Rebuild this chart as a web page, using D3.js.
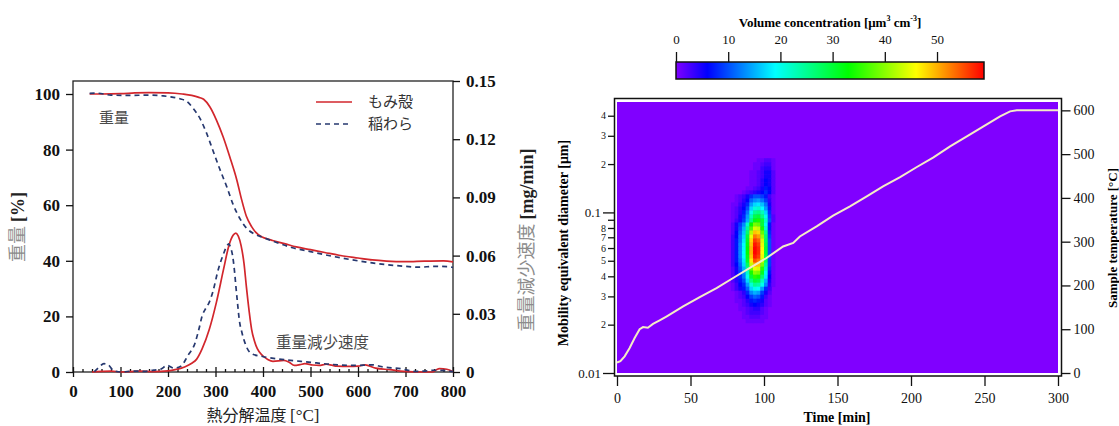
<!DOCTYPE html>
<html>
<head>
<meta charset="utf-8">
<script src="https://cdn.jsdelivr.net/npm/d3@7"></script>
<style>
  body { margin: 0; background: #fff; }
  svg { display: block; }
</style>
</head>
<body>
<svg id="chart" width="1119" height="426"></svg>
<script>
// ---------- left panel: TG / DTG ----------
const tg_xticks = [0, 100, 200, 300, 400, 500, 600, 700, 800];
const tg_wticks = [0, 20, 40, 60, 80, 100];
const tg_rticks = [0, 0.03, 0.06, 0.09, 0.12, 0.15];
const tg_names = ['もみ殻', '稲わら'];

// [temperature °C, weight %]
const husk_weight = [[35,100],[60,100],[100,100.1],[130,100.4],[160,100.5],[200,100.4],[230,100],[250,99.5],[265,98.8],[275,98.1],[288,95.4],[302,90.6],[316,84.6],[330,77.4],[345,69],[355,62],[365,56],[376,52.3],[385,50.2],[395,48.8],[405,48.1],[420,47.3],[445,46.2],[470,45],[500,44],[530,43],[560,42],[600,41],[630,40.3],[660,39.9],[700,39.7],[740,39.9],[780,40],[800,39.6]];
const straw_weight = [[35,100.2],[50,100.3],[80,99.6],[120,99.5],[160,99.6],[190,99.3],[205,99.0],[225,98.3],[240,97.3],[253,94.8],[267,91.3],[281,86.0],[295,79.5],[309,73],[324,66.5],[337,60.3],[352,55],[365,51.8],[380,49.8],[400,48.4],[430,46.5],[460,44.8],[500,43.3],[550,41.5],[600,40],[650,38.8],[700,38],[730,37.7],[760,38],[790,37.9],[800,37.6]];

// [temperature °C, rate mg/min]
const husk_rate = [[40,0],[60,0.0003],[80,0.0005],[100,0],[140,0.0004],[170,0.0002],[200,0.0006],[215,0.0012],[235,0.0026],[250,0.0045],[260,0.0065],[272,0.012],[287,0.022],[302,0.036],[317,0.053],[328,0.065],[337,0.0705],[343,0.0716],[348,0.070],[354,0.065],[360,0.056],[365,0.044],[371,0.031],[376,0.022],[382,0.016],[388,0.012],[399,0.0085],[410,0.0065],[421,0.0055],[444,0.006],[455,0.005],[466,0.0034],[478,0.0038],[488,0.0043],[505,0.0036],[518,0.0034],[533,0.004],[545,0.0035],[555,0.003],[580,0.0029],[600,0.003],[615,0.0037],[625,0.003],[637,0.002],[667,0.0012],[697,0.0003],[720,0.0001],[757,0],[765,0.0012],[772,0.0017],[787,0.0014],[800,0.0001]];
const straw_rate = [[45,0.0002],[55,0.0025],[65,0.0043],[75,0.0035],[85,0.0008],[100,0],[130,0.0005],[150,0.0003],[170,0.001],[185,0.0015],[198,0.0034],[212,0.002],[227,0.003],[242,0.0085],[257,0.015],[265,0.022],[272,0.029],[280,0.033],[287,0.036],[294,0.041],[306,0.053],[317,0.061],[324,0.065],[328,0.066],[332,0.064],[336,0.060],[340,0.052],[343,0.044],[347,0.034],[350,0.027],[356,0.02],[362,0.015],[376,0.0094],[399,0.008],[429,0.0068],[458,0.006],[496,0.0051],[540,0.004],[593,0.0034],[630,0.0037],[652,0.0026],[690,0.0017],[720,0.0003],[740,0.0005],[764,0.0009],[780,0.0008],[800,0.0002]];

// ---------- right panel: size distribution map ----------
const time_ticks = [0, 50, 100, 150, 200, 250, 300];
const temp_ticks = [0, 100, 200, 300, 400, 500, 600];
const diam_ticks = [0.01, 0.02, 0.03, 0.04, 0.05, 0.06, 0.07, 0.08, 0.09, 0.1, 0.2, 0.3, 0.4];
const diam_labels = ['0.01', '2', '3', '4', '5', '6', '7', '8', '', '0.1', '2', '3', '4'];
const cbar_ticks = [0, 10, 20, 30, 40, 50];
const cbar_values = [0, 6, 19, 33, 46, 59];
const cbar_colors = ['#8000ff', '#0000ff', '#00ffff', '#00ff00', '#ffff00', '#ff0000'];

// [time min, sample temperature °C]
const sample_temp = [[0,24],[2.3,27],[5.2,38],[8.6,57],[12,80],[15.4,100],[17.7,105],[21,103.5],[24.5,112],[29,120],[33.6,129],[45,152],[56.3,173.6],[67.7,194],[79,217],[90.4,240],[101.7,262.7],[113,289],[119.9,297],[124.4,312],[135.8,335],[147,359.4],[158.5,380.7],[169.9,403.6],[181,426.4],[192.6,447.7],[204,470.6],[215.3,492.7],[226.6,517.8],[238,540.6],[249.3,563.5],[260.6,586.3],[267.4,597.7],[272,600],[300,600]];

// column start times (min), 2.5 min wide
const heat_time = [77.5, 80, 82.5, 85, 87.5, 90, 92.5, 95, 97.5, 100, 102.5, 105];
// row centres, log10(diameter / µm), 0.025 decade tall
const heat_logd = [-0.675,-0.7,-0.725,-0.75,-0.775,-0.8,-0.825,-0.85,-0.875,-0.9,-0.925,-0.95,-0.975,-1,-1.025,-1.05,-1.075,-1.1,-1.125,-1.15,-1.175,-1.2,-1.225,-1.25,-1.275,-1.3,-1.325,-1.35,-1.375,-1.4,-1.425,-1.45,-1.475,-1.5,-1.525,-1.55,-1.575,-1.6,-1.625,-1.65,-1.675];
// volume concentration µm3 cm-3
const heat_values = [
  [0,0,0,0,0,0,0,1,1,2,2,1],
  [0,0,0,0,0,0,1,1,2,3,3,1],
  [0,0,0,0,0,0,1,1,3,4,4,1],
  [0,0,0,0,0,1,1,2,3,5,5,2],
  [0,0,0,0,0,1,1,2,3,5,5,2],
  [0,0,0,0,0,1,1,2,4,6,5,2],
  [0,0,0,0,0,1,1,2,4,6,5,2],
  [0,0,0,0,1,1,2,3,5,7,6,2],
  [0,0,0,1,2,3,4,5,6,8,6,2],
  [0,1,2,3,5,8,10,10,9,7,3,1],
  [0,1,2,4,6,11,13,14,12,9,4,1],
  [1,1,3,5,8,14,17,18,16,12,5,1],
  [1,2,4,6,10,17,21,22,19,14,7,1],
  [1,2,4,7,12,20,25,26,23,17,8,1],
  [1,2,5,8,14,23,29,30,26,20,9,2],
  [1,3,5,9,15,26,32,34,30,22,10,2],
  [2,5,9,13,22,33,39,38,30,20,7,1],
  [2,5,10,15,25,37,44,43,34,22,7,1],
  [2,6,11,16,27,42,49,48,38,25,8,1],
  [3,6,12,17,30,45,53,51,41,27,9,1],
  [3,7,12,18,31,48,56,54,44,28,10,1],
  [3,7,13,19,32,49,58,56,45,29,10,1],
  [3,7,13,19,33,50,59,57,46,30,10,1],
  [3,7,13,19,33,50,59,57,46,30,10,1],
  [3,7,13,19,32,49,58,56,45,29,10,1],
  [3,7,12,18,31,47,55,53,43,28,9,1],
  [3,6,11,17,28,43,50,49,39,25,9,1],
  [2,5,10,15,25,38,45,44,35,23,8,1],
  [2,5,9,13,22,34,40,39,31,20,7,1],
  [2,4,8,12,20,30,35,34,27,18,6,1],
  [2,4,7,10,17,26,30,29,23,15,5,1],
  [1,3,6,8,14,21,25,24,20,13,4,1],
  [1,3,5,7,11,17,20,19,14,8,3,0],
  [0,1,2,4,8,13,15,14,9,5,2,0],
  [0,1,2,3,6,9,11,10,7,3,1,0],
  [0,1,1,2,4,7,8,7,5,2,1,0],
  [0,0,1,2,3,5,6,5,4,2,1,0],
  [0,0,1,1,2,3,4,4,2,1,0,0],
  [0,0,0,1,2,3,3,3,2,1,0,0],
  [0,0,0,1,1,2,2,2,1,1,0,0],
  [0,0,0,0,1,1,1,1,1,0,0,0]
];

const SERIF = '"Liberation Serif", "Times New Roman", serif';
const JP = '"Noto Sans CJK JP", "Noto Sans", sans-serif';
const svg = d3.select('#chart');

function styleAxis(g, size, weight) {
  g.attr('font-family', SERIF).attr('font-size', size).attr('font-weight', weight);
  g.select('.domain').remove();
  g.selectAll('.tick line').attr('stroke', '#111').attr('stroke-width', 1.3);
  g.selectAll('.tick text').attr('fill', '#111');
}

// ================= left panel =================
const tx = d3.scaleLinear().domain([0, 800]).range([73, 453]);
const tw = d3.scaleLinear().domain([0, 100]).range([372, 94]);
const tr = d3.scaleLinear().domain([0, 0.15]).range([372, 81]);

const left = svg.append('g');

left.append('rect')
  .attr('x', tx(0)).attr('y', tr(0.15))
  .attr('width', tx(800) - tx(0)).attr('height', tr(0) - tr(0.15))
  .attr('fill', 'none').attr('stroke', '#222').attr('stroke-width', 1.3);

left.append('g')
  .attr('transform', `translate(${tx(0)},0)`)
  .call(d3.axisLeft(tw).tickValues(tg_wticks).tickSize(7).tickPadding(6))
  .call(g => styleAxis(g, 17, 'bold'));

left.append('g')
  .attr('transform', `translate(${tx(800)},0)`)
  .call(d3.axisRight(tr).tickValues(tg_rticks).tickSize(7).tickPadding(6)
    .tickFormat(d => d === 0 ? '0' : d3.format('.2f')(d)))
  .call(g => styleAxis(g, 17, 'bold'));

left.append('g')
  .attr('transform', `translate(0,${tw(0)})`)
  .call(d3.axisBottom(tx).tickValues(tg_xticks).tickSize(5).tickPadding(8))
  .call(g => styleAxis(g, 17, 'bold'));

left.append('g')
  .attr('transform', `translate(0,${tw(0)})`)
  .call(d3.axisTop(tx).tickValues(tg_xticks).tickSize(5).tickFormat(''))
  .call(g => styleAxis(g, 17, 'bold'));

left.append('g')
  .attr('transform', `translate(0,${tw(0)})`)
  .call(d3.axisTop(tx).tickValues(d3.range(20, 800, 20).filter(d => d % 100)).tickSize(3).tickFormat(''))
  .call(g => styleAxis(g, 17, 'bold'));

const wline = d3.line().x(d => tx(d[0])).y(d => tw(d[1])).curve(d3.curveMonotoneX);
const rline = d3.line().x(d => tx(d[0])).y(d => tr(d[1])).curve(d3.curveMonotoneX);
const RED = '#d2262c', BLUE = '#26386f';

[[husk_weight, wline, RED, null], [husk_rate, rline, RED, null],
 [straw_weight, wline, BLUE, '5,4'], [straw_rate, rline, BLUE, '5,4']]
  .forEach(([data, line, col, dash]) => {
    left.append('path')
      .attr('d', line(data))
      .attr('fill', 'none')
      .attr('stroke', col)
      .attr('stroke-width', 1.7)
      .attr('stroke-dasharray', dash);
  });

// legend
tg_names.forEach((name, i) => {
  const y = 102 + i * 22;
  left.append('line')
    .attr('x1', 316).attr('x2', 352).attr('y1', y).attr('y2', y)
    .attr('stroke', i ? BLUE : RED).attr('stroke-width', 1.7)
    .attr('stroke-dasharray', i ? '5,4' : null);
  left.append('text')
    .attr('x', 368).attr('y', y).attr('dy', '0.35em')
    .attr('font-family', JP).attr('font-size', 15).attr('fill', '#333')
    .text(name);
});

// annotations
left.append('text').attr('x', 99).attr('y', 118).attr('dy', '0.35em')
  .attr('font-family', JP).attr('font-size', 15).attr('fill', '#4a4a4a').text('重量');
left.append('text').attr('x', 276).attr('y', 343).attr('dy', '0.35em')
  .attr('font-family', JP).attr('font-size', 15.5).attr('fill', '#4a4a4a').text('重量減少速度');

// axis titles
const xt = left.append('text')
  .attr('x', 263).attr('y', 415).attr('dy', '0.35em')
  .attr('text-anchor', 'middle').attr('font-size', 16).attr('fill', '#222');
xt.append('tspan').attr('font-family', JP).text('熱分解温度 ');
xt.append('tspan').attr('font-family', SERIF).attr('font-size', 17).text('[°C]');

const yl = left.append('text')
  .attr('transform', 'translate(18,227) rotate(-90)').attr('dy', '0.35em')
  .attr('text-anchor', 'middle').attr('font-size', 18);
yl.append('tspan').attr('font-family', JP).attr('fill', '#8c8c8c').text('重量 ');
yl.append('tspan').attr('font-family', SERIF).attr('font-weight', 'bold').attr('fill', '#222').text('[%]');

const yr = left.append('text')
  .attr('transform', 'translate(527,240) rotate(-90)').attr('dy', '0.35em')
  .attr('text-anchor', 'middle').attr('font-size', 18);
yr.append('tspan').attr('font-family', JP).attr('fill', '#8c8c8c').text('重量減少速度 ');
yr.append('tspan').attr('font-family', SERIF).attr('font-weight', 'bold').attr('fill', '#222').text('[mg/min]');

// ================= right panel =================
const hx = d3.scaleLinear().domain([0, 300]).range([617, 1058]);
const hy = d3.scaleLog().domain([0.01, 0.487]).range([373, 102]);
const hT = d3.scaleLinear().domain([0, 620]).range([373, 101.6]);
const color = d3.scaleLinear().domain(cbar_values).range(cbar_colors).clamp(true);

const right = svg.append('g');

right.append('rect')
  .attr('x', 614.5).attr('y', 98.5).attr('width', 447).attr('height', 277.5)
  .attr('fill', '#fff').attr('stroke', '#111').attr('stroke-width', 1.5);

right.append('rect')
  .attr('x', hx(0)).attr('y', hy(0.487))
  .attr('width', hx(300) - hx(0)).attr('height', hy(0.01) - hy(0.487))
  .attr('fill', color(0));

const cells = [];
heat_logd.forEach((l, i) => heat_time.forEach((t, j) => {
  if (heat_values[i][j] > 0) cells.push({ t, l, v: heat_values[i][j] });
}));

right.append('g').selectAll('rect')
  .data(cells).enter()
  .append('rect')
  .attr('x', d => hx(d.t))
  .attr('width', d => hx(d.t + 2.5) - hx(d.t) + 0.4)
  .attr('y', d => hy(Math.pow(10, d.l + 0.0125)))
  .attr('height', d => hy(Math.pow(10, d.l - 0.0125)) - hy(Math.pow(10, d.l + 0.0125)) + 0.4)
  .attr('fill', d => color(d.v));

right.append('path')
  .attr('d', d3.line().x(d => hx(d[0])).y(d => hT(d[1]))(sample_temp))
  .attr('fill', 'none').attr('stroke', '#f4ebc6').attr('stroke-width', 2);

// axes
const major = d => d === 0.01 || d === 0.1;
right.append('g')
  .attr('transform', 'translate(614,0)')
  .call(d3.axisLeft(hy).tickValues(diam_ticks).tickSize(6).tickPadding(2)
    .tickFormat((d, i) => diam_labels[i]))
  .call(g => styleAxis(g, 10, 'normal'))
  .call(g => {
    g.selectAll('.tick line').attr('x2', d => major(d) ? -11 : -6);
    g.selectAll('.tick text').attr('x', d => major(d) ? -13 : -8)
      .attr('font-size', d => major(d) ? 13 : 10);
  });

right.append('g')
  .attr('transform', 'translate(0,376)')
  .call(d3.axisBottom(hx).tickValues(time_ticks).tickSize(10).tickPadding(7))
  .call(g => styleAxis(g, 14, 'normal'));

right.append('g')
  .attr('transform', 'translate(1061.5,0)')
  .call(d3.axisRight(hT).tickValues(temp_ticks).tickSize(9).tickPadding(3))
  .call(g => styleAxis(g, 14, 'normal'));

right.append('text')
  .attr('x', 837).attr('y', 417).attr('dy', '0.35em').attr('text-anchor', 'middle')
  .attr('font-family', SERIF).attr('font-size', 14).attr('font-weight', 'bold')
  .text('Time [min]');

right.append('text')
  .attr('transform', 'translate(563,243) rotate(-90)').attr('dy', '0.35em')
  .attr('text-anchor', 'middle')
  .attr('font-family', SERIF).attr('font-size', 14).attr('font-weight', 'bold')
  .text('Mobility equivalent diameter [μm]');

right.append('text')
  .attr('transform', 'translate(1112,238) rotate(-90)').attr('dy', '0.35em')
  .attr('text-anchor', 'middle')
  .attr('font-family', SERIF).attr('font-size', 13).attr('font-weight', 'bold')
  .text('Sample temperature [°C]');

// colour bar
const cx = d3.scaleLinear().domain([0, 59]).range([676, 984]);
const grad = svg.append('defs').append('linearGradient').attr('id', 'cbar');
cbar_values.forEach((v, i) => {
  grad.append('stop').attr('offset', v / 59).attr('stop-color', cbar_colors[i]);
});
right.append('rect')
  .attr('x', cx(0)).attr('y', 62).attr('width', cx(59) - cx(0)).attr('height', 17)
  .attr('fill', 'url(#cbar)').attr('stroke', '#111').attr('stroke-width', 1.5);

right.append('g')
  .attr('transform', 'translate(0,62)')
  .call(d3.axisTop(cx).tickValues(cbar_ticks).tickSize(10).tickPadding(8))
  .call(g => styleAxis(g, 13, 'normal'));

const ct = right.append('text')
  .attr('x', 830).attr('y', 27).attr('text-anchor', 'middle')
  .attr('font-family', SERIF).attr('font-size', 13).attr('font-weight', 'bold');
ct.append('tspan').text('Volume concentration [μm');
ct.append('tspan').attr('font-size', 8).attr('dy', -6).text('3');
ct.append('tspan').attr('dy', 6).text(' cm');
ct.append('tspan').attr('font-size', 8).attr('dy', -6).text('-3');
ct.append('tspan').attr('dy', 6).text(']');
</script>
</body>
</html>
